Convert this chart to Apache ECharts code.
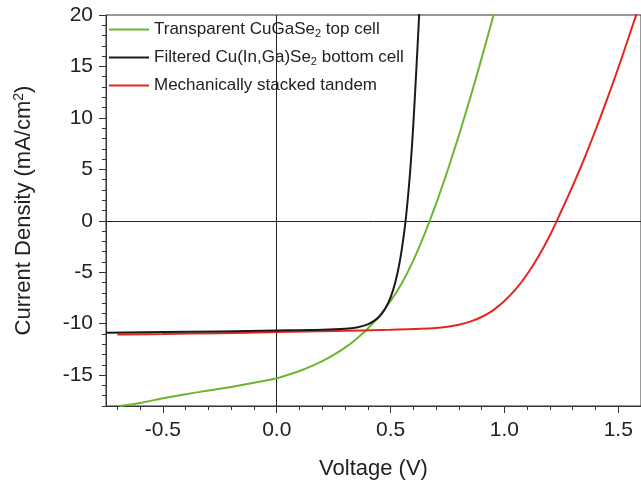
<!DOCTYPE html>
<html>
<head>
<meta charset="utf-8">
<script src="https://cdn.jsdelivr.net/npm/echarts@6/dist/echarts.min.js"></script>
<style>
  html, body { margin: 0; padding: 0; background: #fff; }
  #chart { width: 641px; height: 486px; }
</style>
</head>
<body>
<div id="chart"></div>
<script>
// tick positions
const xTicks = [-0.5, 0.0, 0.5, 1.0, 1.5];
const xMinor = [-0.7, -0.6, -0.4, -0.3, -0.2, -0.1, 0.1, 0.2, 0.3, 0.4, 0.6, 0.7, 0.8, 0.9, 1.1, 1.2, 1.3, 1.4, 1.6];
const yTicks = [-15, -10, -5, 0, 5, 10, 15, 20];
const yMinor = [-18, -17, -16, -14, -13, -12, -11, -9, -8, -7, -6, -4, -3, -2, -1,
  1, 2, 3, 4, 6, 7, 8, 9, 11, 12, 13, 14, 16, 17, 18, 19];

// Transparent CuGaSe2 top cell
const topV = [-0.69, -0.6, -0.5, -0.4, -0.3, -0.2, -0.1, 0.0, 0.05, 0.1, 0.15, 0.2, 0.25, 0.3, 0.35, 0.4, 0.45, 0.5, 0.55, 0.6, 0.65, 0.7, 0.75, 0.8, 0.85, 0.9, 0.95, 1.0];
const topJ = [-18.0, -17.7, -17.25, -16.85, -16.5, -16.15, -15.75, -15.3, -14.97, -14.6, -14.15, -13.64, -13.04, -12.33, -11.48, -10.47, -9.26, -7.8, -6.04, -3.84, -1.24, 1.66, 4.86, 8.31, 11.96, 15.81, 19.81, 23.91];

// Filtered Cu(In,Ga)Se2 bottom cell
const botV = [-0.75, -0.5, -0.25, 0.0, 0.1, 0.2, 0.3, 0.35, 0.4, 0.44, 0.46, 0.48, 0.5, 0.52, 0.54, 0.56, 0.57, 0.58, 0.59, 0.6, 0.61, 0.62, 0.63, 0.64];
const botJ = [-10.88, -10.82, -10.75, -10.66, -10.63, -10.6, -10.5, -10.37, -10.07, -9.53, -9.07, -8.4, -7.44, -6.04, -4.02, -1.08, 0.86, 3.19, 6.0, 9.4, 13.4, 17.6, 22.0, 26.5];

// Mechanically stacked tandem
const tanV = [-0.7, -0.5, -0.25, 0.0, 0.25, 0.5, 0.6, 0.7, 0.75, 0.8, 0.85, 0.9, 0.95, 1.0, 1.05, 1.1, 1.15, 1.2, 1.25, 1.3, 1.35, 1.4, 1.45, 1.5, 1.55, 1.6, 1.65];
const tanJ = [-11.05, -11.0, -10.92, -10.82, -10.7, -10.6, -10.52, -10.42, -10.3, -10.1, -9.8, -9.35, -8.7, -7.8, -6.65, -5.2, -3.45, -1.4, 0.95, 3.4, 6.0, 8.8, 11.75, 14.85, 18.1, 21.45, 24.9];

const names = ['Transparent CuGaSe2 top cell', 'Filtered Cu(In,Ga)Se2 bottom cell', 'Mechanically stacked tandem'];
const legendText = {
  'Transparent CuGaSe2 top cell': 'Transparent CuGaSe{sub|2} top cell',
  'Filtered Cu(In,Ga)Se2 bottom cell': 'Filtered Cu(In,Ga)Se{sub|2} bottom cell',
  'Mechanically stacked tandem': 'Mechanically stacked tandem',
};

const pairs = (xs, ys) => xs.map((x, i) => [x, ys[i]]);
const font = 'Liberation Sans, Arial, sans-serif';

let chart = echarts.init(document.getElementById('chart'));
chart.setOption({
  animation: false,
  textStyle: { fontFamily: font },
  grid: {
    left: 106,
    right: -2,
    top: 15,
    bottom: 80,
    show: true,
    borderColor: '#333',
    borderWidth: 1,
  },
  legend: {
    orient: 'vertical',
    left: 109,
    top: 21,
    padding: 0,
    icon: 'rect',
    itemWidth: 40,
    itemHeight: 2,
    itemGap: 9.5,
    data: names,
    formatter: (n) => legendText[n],
    textStyle: {
      fontFamily: font,
      fontSize: 17,
      color: '#222',
      rich: {
        sub: { fontSize: 11, padding: [9, 0, 0, 0], fontFamily: font, color: '#222' },
      },
    },
  },
  xAxis: [
    {
      type: 'value',
      min: -0.75,
      max: 1.6,
      name: 'Voltage (V)',
      nameLocation: 'middle',
      nameGap: 52,
      nameTextStyle: { fontSize: 22, color: '#222', fontFamily: font },
      axisLine: { onZero: false, lineStyle: { color: '#333', width: 1 } },
      axisTick: { customValues: xTicks, length: 7, lineStyle: { color: '#333' } },
      axisLabel: {
        customValues: xTicks,
        formatter: (v) => v.toFixed(1),
        fontSize: 21,
        color: '#222',
        margin: 14,
      },
      splitLine: { show: false },
    },
    {
      // minor ticks only
      type: 'value',
      min: -0.75,
      max: 1.6,
      position: 'bottom',
      axisLine: { show: false, onZero: false },
      axisTick: { customValues: xMinor, length: 4, lineStyle: { color: '#333' } },
      axisLabel: { show: false },
      splitLine: { show: false },
    },
  ],
  yAxis: [
    {
      type: 'value',
      min: -18,
      max: 20,
      name: 'Current Density (mA/cm{sup|2})',
      nameLocation: 'middle',
      nameGap: 70,
      nameTextStyle: {
        fontSize: 22,
        color: '#222',
        fontFamily: font,
        rich: { sup: { fontSize: 14, padding: [0, 0, 10, 0], color: '#222', fontFamily: font } },
      },
      axisLine: { show: true, onZero: false, lineStyle: { color: '#333', width: 1 } },
      axisTick: { show: true, customValues: yTicks, length: 7, lineStyle: { color: '#333' } },
      axisLabel: { customValues: yTicks, fontSize: 21, color: '#222', margin: 13 },
      splitLine: { show: false },
    },
    {
      type: 'value',
      min: -18,
      max: 20,
      position: 'left',
      axisLine: { show: false, onZero: false },
      axisTick: { show: true, customValues: yMinor, length: 4, lineStyle: { color: '#333' } },
      axisLabel: { show: false },
      splitLine: { show: false },
    },
  ],
  series: [
    {
      name: names[0],
      type: 'line',
      data: pairs(topV, topJ),
      symbol: 'none',
      smooth: 0.4,
      lineStyle: { color: '#6cb52d', width: 2 },
      itemStyle: { color: '#6cb52d' },
      // zero lines
      markLine: {
        silent: true,
        symbol: 'none',
        label: { show: false },
        lineStyle: { color: '#222', width: 1, type: 'solid' },
        data: [{ xAxis: 0 }, { yAxis: 0 }],
        z: 1,
      },
      z: 3,
    },
    {
      name: names[1],
      type: 'line',
      data: pairs(botV, botJ),
      symbol: 'none',
      smooth: 0.4,
      lineStyle: { color: '#1a1a1a', width: 2 },
      itemStyle: { color: '#1a1a1a' },
      z: 4,
    },
    {
      name: names[2],
      type: 'line',
      data: pairs(tanV, tanJ),
      symbol: 'none',
      smooth: 0.4,
      lineStyle: { color: '#e5261f', width: 2 },
      itemStyle: { color: '#e5261f' },
      z: 3,
    },
  ],
});
</script>
</body>
</html>
